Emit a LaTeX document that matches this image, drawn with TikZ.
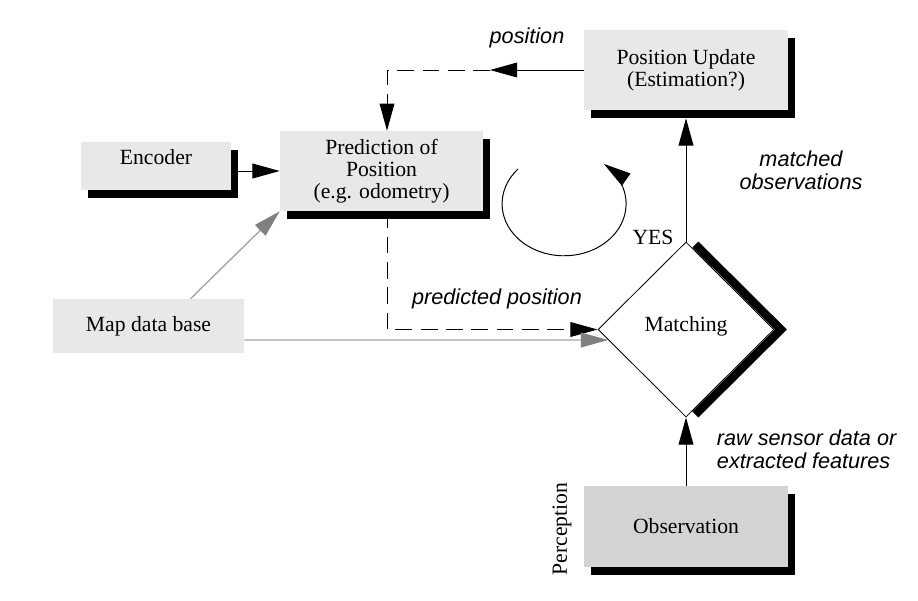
\documentclass[tikz,border=0pt]{standalone}
\usepackage{fontspec}
\setmainfont{Liberation Serif}
\newfontfamily\labelfont{Liberation Sans}
\usetikzlibrary{
    positioning,
    arrows.meta,
    shapes.geometric,
    shadows
}
\definecolor{BoxGray}{RGB}{232,232,232}
\definecolor{ObsGray}{RGB}{211,211,211}
\definecolor{LineGray}{RGB}{165,165,165}
\definecolor{TipGray}{RGB}{128,128,128}

\begin{document}
\begin{tikzpicture}[
    x=0.025cm, y=-0.025cm,
    font=\fontsize{15.4}{15.8}\selectfont,
    box/.style={rectangle, fill=BoxGray, align=center, inner sep=2pt, drop shadow={shadow xshift=0.175cm, shadow yshift=-0.2cm, fill=black, opacity=1}},
    arrow/.style={line width=0.7pt, -{Triangle[length=0.68cm, width=0.37cm]}},
    dasharrow/.style={arrow, dash pattern=on 12pt off 6pt},
    grayarrow/.style={line width=1pt, color=LineGray, -{Triangle[length=0.68cm, width=0.37cm, color=TipGray]}},
    tag/.style={font=\labelfont\itshape\fontsize{15.4}{16.3}\selectfont, align=center}
]
\useasboundingbox (0,0) rectangle (918,600);

% boxes
\node[box, minimum width=5.1cm, minimum height=2cm] (update) at (686,70) {Position Update\\(Estimation?)};
\node[box, minimum width=5.075cm, minimum height=2cm] (predict) at (381.5,171) {Prediction of\\Position\\(e.g. odometry)};
\node[box, minimum width=3.75cm, minimum height=1.2cm, text depth=0.45cm] (encoder) at (156,166) {Encoder};
\node[rectangle, fill=BoxGray, minimum width=4.775cm, minimum height=1.35cm] (mapdb) at (148.5,326) {Map data base};
\node[box, fill=ObsGray, minimum width=5.1cm, minimum height=2.025cm] (observe) at (686,526.5) {Observation};
\node[diamond, draw, fill=white, line width=0.6pt, minimum width=4.4cm, minimum height=4.375cm, inner sep=0pt, text depth=0.3cm] (matching) at (686,329.5) {Matching};
\draw[line width=6pt] ([xshift=0.235cm, yshift=-0.075cm]matching.north) -- ([xshift=0.16cm]matching.east) -- ([xshift=0.235cm, yshift=0.075cm]matching.south);

% connectors
\coordinate (postip) at (490,70);
\coordinate (poscorner) at (387,70);
\coordinate (predbend) at (387,329.5);
\draw[arrow] (update.west) -- (postip);
\draw[dasharrow] (postip) -- (poscorner) -- (poscorner |- predict.north);
\draw[arrow] (encoder.east |- predict.west) -- (predict.west);
\draw[grayarrow] ([xshift=1.05cm]mapdb.north) -- (predict.south west);
\draw[dasharrow] (predict.south -| predbend) -- (predbend) -- (matching.west);
\draw[grayarrow] ([yshift=-0.35cm]mapdb.east) -- ([xshift=0.2625cm, yshift=-0.2625cm]matching.west);
\draw[arrow] (matching.north) -- ([yshift=-0.2cm]update.south);
\draw[arrow] (observe.north) -- (matching.south);
\draw[arrow] (518,169) arc[start angle=-138, end angle=-410, x radius=62, y radius=52];

% labels
\node[tag] (lposition) at (527,38) {position};
\node[tag] (lmatched) at (801,170) {matched\\observations};
\node (lyes) at (653,237) {YES};
\node[tag] (lpredicted) at (497,299) {predicted position};
\node[tag, align=left, anchor=west] (lraw) at (712,449) {raw sensor data or\\extracted features};
\node[rotate=90] (lperception) at (562,529) {Perception};
\end{tikzpicture}
\end{document}
